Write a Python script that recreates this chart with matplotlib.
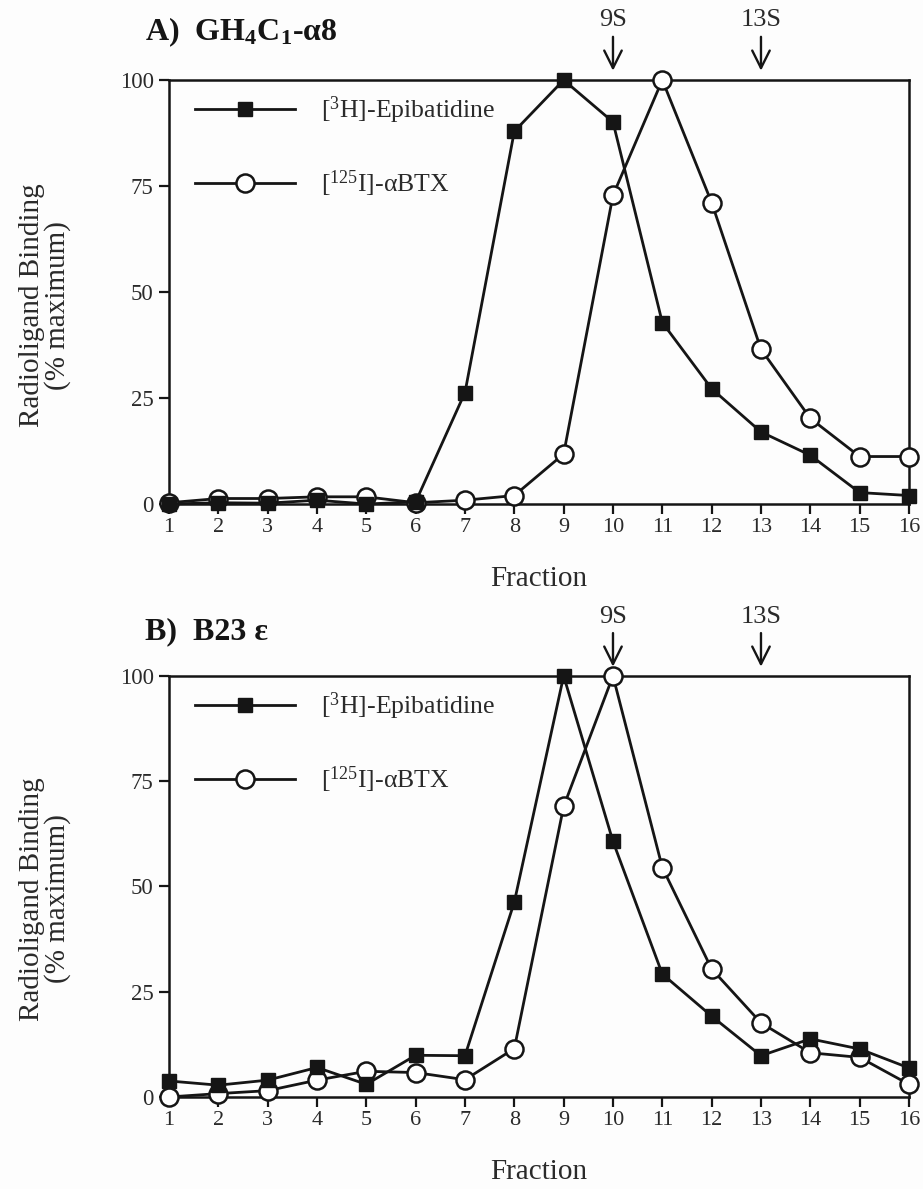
import matplotlib
matplotlib.use("Agg")
import matplotlib.pyplot as plt

plt.rcParams["font.family"] = ["Liberation Serif", "DejaVu Serif"]
plt.rcParams["mathtext.fontset"] = "custom"
plt.rcParams["mathtext.rm"] = "Liberation Serif"
plt.rcParams["mathtext.it"] = "Liberation Serif:italic"
plt.rcParams["mathtext.bf"] = "Liberation Serif:bold"

# Sucrose-gradient fractions
fractions = list(range(1, 17))

# Panel A: GH4C1-alpha8
epi_a = [0.0, 0.3, 0.2, 0.9, 0.0, 0.5, 26.3, 87.9, 100.0, 90.1, 42.8, 27.2, 17.0, 11.5, 2.7, 2.0]
btx_a = [0.3, 1.3, 1.3, 1.7, 1.7, 0.3, 0.9, 2.0, 11.8, 72.8, 100.0, 71.1, 36.5, 20.2, 11.2, 11.2]

# Panel B: B23 epsilon
epi_b = [3.8, 2.8, 4.0, 7.0, 3.0, 9.9, 9.8, 46.3, 100.0, 60.7, 29.2, 19.2, 9.8, 13.8, 11.4, 6.9]
btx_b = [0.0, 0.8, 1.5, 4.0, 6.1, 5.8, 4.1, 11.5, 69.0, 100.0, 54.5, 30.4, 17.6, 10.5, 9.4, 3.0]

# Sedimentation markers (fraction position)
marker_labels = ["9S", "13S"]
marker_fractions = [10, 13]

y_ticks = [0, 25, 50, 75, 100]

ink = "#151515"
text_col = "#2a2a2a"

fig = plt.figure(figsize=(9.23, 11.89), dpi=100, facecolor="#fdfdfd")

ax_a = fig.add_axes([0.1831, 0.5761, 0.8017, 0.3566])
ax_b = fig.add_axes([0.1831, 0.0774, 0.8017, 0.3541])

panels = [
    (ax_a, epi_a, btx_a, r"A)  GH$_{\mathbf{4}}$C$_{\mathbf{1}}$-α8", 0.966, 0.743),
    (ax_b, epi_b, btx_b, "B)  B23 ε", 0.462, 0.244),
]

for ax, epi, btx, title, title_y, ylab_y in panels:
    ax.set_facecolor("#fdfdfd")
    ax.plot(fractions, btx, color=ink, lw=2.0, marker="o", ms=13,
            mfc="white", mec=ink, mew=1.8, clip_on=False, zorder=3,
            label=r"[$^{125}$I]-αBTX")
    ax.plot(fractions, epi, color=ink, lw=2.0, marker="s", ms=10,
            mfc=ink, mec=ink, clip_on=False, zorder=4,
            label=r"[$^{3}$H]-Epibatidine")

    ax.set_xlim(1, 16)
    ax.set_ylim(0, 100)
    ax.set_xticks(fractions)
    ax.set_yticks(y_ticks)
    ax.tick_params(axis="x", direction="out", length=7.5, width=1.6,
                   labelsize=16, labelcolor=text_col, color=ink, pad=2.5)
    ax.tick_params(axis="y", direction="out", length=7, width=1.6,
                   labelsize=16.5, labelcolor=text_col, color=ink, pad=4)
    for sp in ax.spines.values():
        sp.set_linewidth(1.8)
        sp.set_color(ink)

    ax.set_xlabel("Fraction", fontsize=21, color=text_col, labelpad=21)

    handles, labels = ax.get_legend_handles_labels()
    leg = ax.legend(handles[::-1], labels[::-1], loc="upper left",
                    bbox_to_anchor=(0.021, 0.99), frameon=False,
                    fontsize=18.5, handlelength=3.9, handletextpad=1.0,
                    labelspacing=1.65, numpoints=1, borderaxespad=0.0)
    for t in leg.get_texts():
        t.set_color(text_col)

    for lab, fr in zip(marker_labels, marker_fractions):
        ax.annotate(lab, xy=(fr, 102.2), xytext=(fr, 111.5),
                    xycoords="data", textcoords="data",
                    ha="center", va="bottom", fontsize=19, color=text_col,
                    annotation_clip=False,
                    arrowprops=dict(arrowstyle="->,head_length=0.7,head_width=0.35",
                                    mutation_scale=18, lw=1.7, color=ink,
                                    shrinkA=2, shrinkB=0))

    fig.text(0.157, title_y, title, fontsize=23, fontweight="bold",
             color=ink, ha="left", va="baseline")
    fig.text(0.049, ylab_y, "Radioligand Binding\n(% maximum)", rotation=90,
             fontsize=21, color=text_col, ha="center", va="center",
             multialignment="center", linespacing=0.95)

fig.savefig("out.png", dpi=100, facecolor=fig.get_facecolor())
